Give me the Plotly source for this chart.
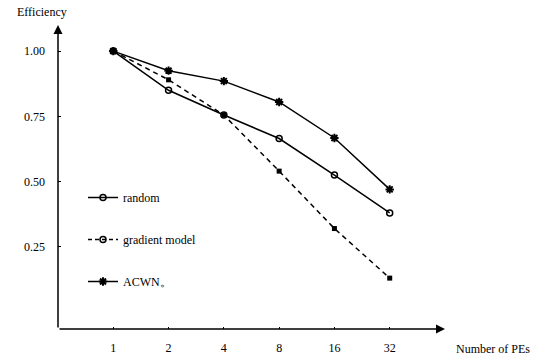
import numpy as np
import plotly.graph_objects as go

pes = [1, 2, 4, 8, 16, 32]
tick_labels = ["1", "2", "4", "8", "16", "32"]
y_ticks = [1.00, 0.75, 0.50, 0.25]
y_tick_labels = ["1.00", "0.75", "0.50", "0.25"]

random_eff = [1.00, 0.85, 0.755, 0.665, 0.525, 0.38]
gradient_eff = [1.00, 0.89, 0.755, 0.54, 0.32, 0.13]
acwn_eff = [1.00, 0.925, 0.885, 0.805, 0.667, 0.47]

FONT = "Liberation Serif, Times New Roman, serif"
W, H = 537, 364
L, R, T, B = 58, 92, 25, 35

fig = go.Figure()

line = dict(color="black", width=1.5)
circ = dict(symbol="circle-open", size=6, color="black", line=dict(width=1.5))
star = dict(symbol="asterisk-open", size=7, color="black", line=dict(width=2, color="black"))
fig.add_trace(go.Scatter(x=pes, y=random_eff, mode="lines+markers", showlegend=False, line=line, marker=circ))
fig.add_trace(go.Scatter(x=pes, y=gradient_eff, mode="lines+markers", showlegend=False,
                         line=dict(color="black", width=1.5, dash="5px,4px"),
                         marker=dict(symbol="square", size=5, color="black")))
fig.add_trace(go.Scatter(x=pes, y=acwn_eff, mode="lines+markers", showlegend=False, line=line, marker=star))

# legend entries
fig.add_trace(go.Scatter(x=[None], y=[None], mode="lines+markers", name="random", legendgroup="a",
                         line=line, marker=circ))
fig.add_trace(go.Scatter(x=[None], y=[None], mode="lines+markers", name="gradient model", legendgroup="b",
                         line=dict(color="black", width=1.5, dash="4px,3px"), marker=circ))
fig.add_trace(go.Scatter(x=[None], y=[None], mode="lines+markers", name="ACWN\u3002", legendgroup="c",
                         line=line, marker=star))

pw = W - L - R
ph = H - T - B

fig.update_layout(
    width=W, height=H,
    margin=dict(l=L, r=R, t=T, b=B, autoexpand=False),
    paper_bgcolor="white", plot_bgcolor="white",
    font=dict(family=FONT, size=12, color="black"),
    xaxis=dict(type="log", range=[np.log10(0.5), np.log10(64)], tickvals=pes, ticktext=tick_labels,
               showgrid=False, zeroline=False, showline=False, ticks="inside", ticklen=2,
               tickcolor="black", ticklabelstandoff=10,
               automargin=False, tickfont=dict(family=FONT, size=12)),
    yaxis=dict(range=[-0.065, 1.10], tickvals=y_ticks, ticktext=y_tick_labels,
               showgrid=False, zeroline=False, showline=False, ticks="inside", ticklen=3,
               tickcolor="black", ticklabelstandoff=12, automargin=False,
               tickfont=dict(family=FONT, size=12)),
    legend=dict(x=(83 - L) / pw, y=(329 - 183) / ph, xanchor="left", yanchor="top",
                traceorder="grouped", tracegroupgap=23, bgcolor="rgba(0,0,0,0)",
                font=dict(family=FONT, size=12), itemwidth=30),
    showlegend=True,
)

# axes with arrows
fig.add_annotation(x=0, y=1, xref="paper", yref="paper", ax=0, ay=ph, axref="pixel", ayref="pixel",
                   showarrow=True, arrowhead=2, arrowsize=1.2, arrowwidth=1.5, arrowcolor="black", text="")
fig.add_annotation(x=1, y=0, xref="paper", yref="paper", ax=-pw, ay=0, axref="pixel", ayref="pixel",
                   showarrow=True, arrowhead=2, arrowsize=1.2, arrowwidth=1.5, arrowcolor="black", text="")

fig.add_annotation(text="Efficiency", x=(15 - L) / pw, y=(H - B - 12) / ph, xref="paper", yref="paper",
                   xanchor="left", yanchor="middle", showarrow=False, font=dict(family=FONT, size=12))
fig.add_annotation(text="Number of PEs", x=(532 - L) / pw, y=(H - B - 349) / ph, xref="paper", yref="paper",
                   xanchor="right", yanchor="middle", showarrow=False, font=dict(family=FONT, size=12))

fig.write_html("out.html", config={"displayModeBar": False},
               post_script="document.body.style.margin='0';document.body.style.padding='0';")
